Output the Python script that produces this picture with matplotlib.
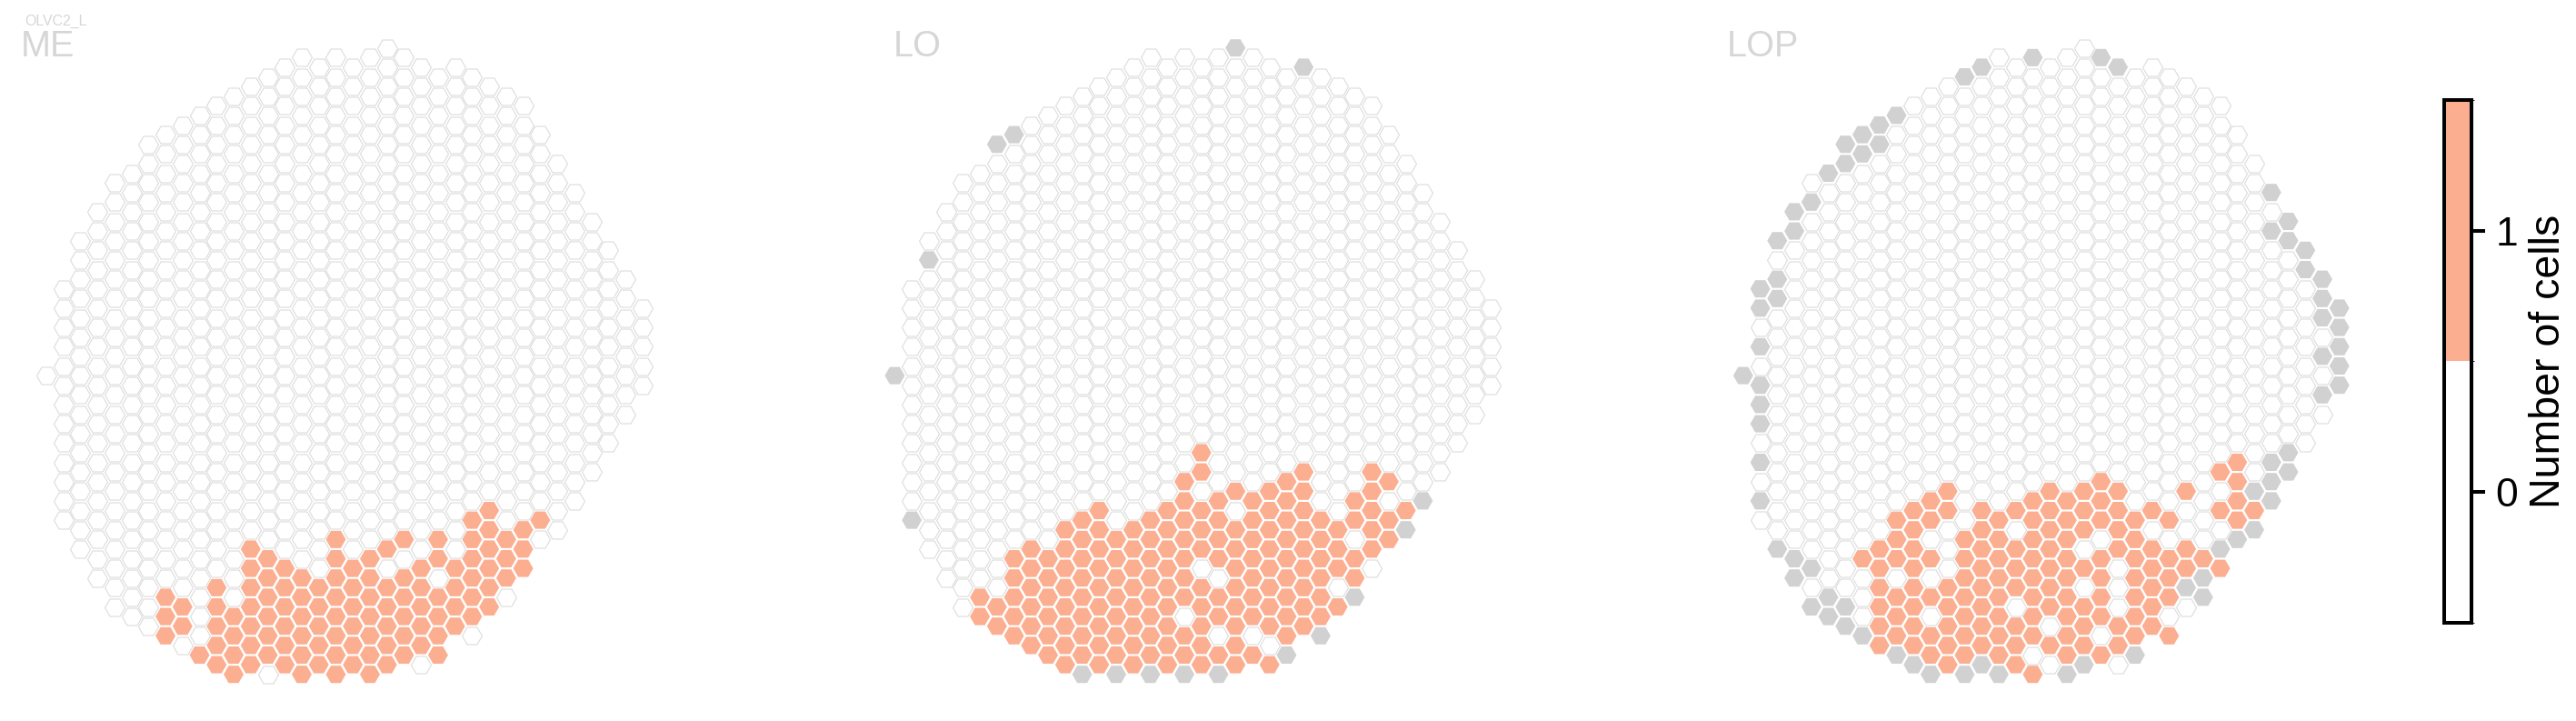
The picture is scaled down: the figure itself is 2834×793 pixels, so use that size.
import matplotlib
matplotlib.use("Agg")
import matplotlib.pyplot as plt
from matplotlib.colors import ListedColormap, BoundaryNorm
from matplotlib.cm import ScalarMappable

plt.rcParams['font.family'] = ['Liberation Sans', 'DejaVu Sans']

W, H, DPI = 2834, 793, 100

# hex grid outline: first / last half-row index of every column
COL_TOP = [34, 25, 20, 17, 14, 13, 10, 9, 8, 7, 6, 5, 4, 3, 2, 1, 2, 1, 2, 1, 0, 1, 2, 3, 2,
           3, 4, 5, 6, 9, 12, 15, 18, 21, 24, 27]
COL_BOTTOM = [34, 49, 52, 55, 58, 59, 60, 61, 62, 63, 64, 65, 64, 65, 64, 65, 64, 65, 64, 65, 64, 63, 64, 63, 60,
              61, 58, 57, 54, 51, 50, 47, 44, 41, 38, 35]

# cells with one cell count, column -> half-row indices
ME_ONE = {
    7: [57, 59, 61], 8: [58, 60], 9: [63], 10: [56, 58, 60, 62, 64], 11: [59, 61, 63, 65],
    12: [52, 54, 56, 58, 60, 62, 64], 13: [53, 55, 57, 59, 61, 63], 14: [54, 56, 58, 60, 62, 64],
    15: [55, 57, 59, 61, 63, 65], 16: [56, 58, 60, 62, 64], 17: [51, 53, 55, 57, 59, 61, 63, 65],
    18: [54, 56, 58, 60, 62, 64], 19: [53, 55, 57, 59, 61, 63, 65], 20: [52, 56, 58, 60, 62, 64],
    21: [51, 55, 57, 59, 61, 63], 22: [54, 56, 58, 60, 62], 23: [51, 53, 57, 59, 61, 63],
    24: [54, 56, 58, 60], 25: [49, 51, 53, 55, 57, 59], 26: [48, 50, 52, 54, 56, 58],
    27: [51, 53, 55], 28: [50, 52, 54], 29: [49],
}
LO_ONE = {
    5: [57, 59], 6: [58, 60], 7: [53, 55, 57, 59, 61], 8: [52, 54, 56, 58, 60, 62],
    9: [53, 55, 57, 59, 61, 63], 10: [50, 52, 54, 56, 58, 60, 62, 64],
    11: [49, 51, 53, 55, 57, 59, 61, 63], 12: [48, 50, 52, 54, 56, 58, 60, 62, 64],
    13: [51, 53, 55, 57, 59, 61, 63], 14: [50, 52, 54, 56, 58, 60, 62, 64],
    15: [49, 51, 53, 55, 57, 59, 61, 63], 16: [48, 50, 52, 54, 56, 58, 60, 62, 64],
    17: [45, 47, 49, 51, 53, 55, 57, 61, 63], 18: [42, 44, 48, 50, 52, 56, 58, 60, 62, 64],
    19: [47, 49, 51, 53, 57, 59, 63], 20: [46, 50, 52, 54, 56, 58, 60, 62, 64],
    21: [47, 49, 51, 53, 55, 57, 59, 63], 22: [46, 48, 50, 52, 54, 56, 58, 60, 64],
    23: [45, 47, 49, 51, 53, 55, 57, 59, 61], 24: [44, 46, 48, 50, 52, 54, 56, 58, 60],
    25: [49, 51, 53, 55, 57, 59], 26: [50, 52, 54, 58], 27: [47, 49, 53, 55],
    28: [44, 46, 48, 50, 52], 29: [45, 49, 51], 30: [48],
}
LOP_ONE = {
    7: [53], 8: [52, 54, 56, 58, 60, 62], 9: [49, 51, 53, 57, 59, 61],
    10: [48, 50, 52, 54, 56, 58, 60, 62], 11: [47, 49, 53, 57, 61, 63],
    12: [46, 48, 56, 58, 60, 62, 64], 13: [51, 53, 55, 57, 59, 61, 63],
    14: [48, 50, 52, 54, 56, 58, 60, 62], 15: [49, 51, 53, 55, 57, 59, 61, 63],
    16: [48, 52, 54, 56, 60, 62, 64], 17: [47, 49, 51, 53, 55, 57, 59, 61, 65],
    18: [46, 48, 50, 52, 54, 56, 58, 62], 19: [47, 49, 51, 53, 55, 57, 59, 61, 63],
    20: [46, 48, 50, 54, 58, 60, 62], 21: [45, 47, 49, 53, 55, 57, 59, 63],
    22: [46, 48, 50, 52, 60, 62], 23: [49, 51, 53, 55, 57, 59, 61],
    24: [48, 52, 54, 56, 58, 60], 25: [49, 53, 55, 57, 61], 26: [46, 52, 54],
    27: [53], 28: [44, 48, 54], 29: [43, 45, 47, 49], 30: [48],
}

# cells outside the neuropil (grey), column -> half-row indices
ME_NA = {}
LO_NA = {
    0: [34], 1: [49], 2: [22], 6: [10], 7: [9], 11: [65], 13: [65], 15: [65], 17: [65], 19: [65],
    20: [0], 23: [63], 24: [2], 25: [61], 27: [57], 30: [50], 31: [47],
}
LOP_NA = {
    0: [34], 1: [25, 27, 31, 35, 37, 39, 43, 47], 2: [20, 24, 26, 52], 3: [17, 19, 53, 55],
    4: [16, 54, 58], 5: [13, 57, 59], 6: [10, 12, 58, 60], 7: [9, 11, 61], 8: [8, 10], 9: [7, 63],
    10: [64], 11: [65], 13: [3, 65], 14: [2, 64], 15: [65], 17: [1], 19: [65], 20: [64], 21: [1],
    22: [2], 23: [63], 26: [56], 27: [55, 57], 28: [52], 29: [51], 30: [46, 50],
    31: [15, 19, 43, 45, 47], 32: [18, 20, 42, 44], 33: [21, 23], 34: [24, 26, 28, 32, 36],
    35: [27, 29, 31, 33, 35],
}

PANEL_NAMES = ["ME", "LO", "LOP"]
PANEL_ONES = [ME_ONE, LO_ONE, LOP_ONE]
PANEL_NAS = [ME_NA, LO_NA, LOP_NA]
CBAR_TICKS = [0, 1]
CBAR_LABEL = "Number of cells"
SUPER_LABEL = "OLVC2_L"

# layout (pixels)
PANEL_X0 = [50.9, 984.4, 1917.8]
PANEL_TITLE_X = [22.5, 983, 1900]
COL_STEP = 18.74
ROW_STEP = 10.6
ROW_Y0 = 52.7
HEX_S = 250
ORANGE, GREY, EDGE, TEXT_GREY = '#fcae91', '#d1d1d1', '#dcdcdc', '#d6d6d6'

fig = plt.figure(figsize=(W / DPI, H / DPI), dpi=DPI, facecolor='white')


def px_axes(left, top, right, bottom):
    return fig.add_axes([left / W, 1 - bottom / H, (right - left) / W, (bottom - top) / H])


for name, ones, nas, x0, tx in zip(PANEL_NAMES, PANEL_ONES, PANEL_NAS, PANEL_X0, PANEL_TITLE_X):
    left, right = x0 - 30, x0 + 35 * COL_STEP + 30
    top, bottom = 20, 775
    ax = px_axes(left, top, right, bottom)
    ax.set_xlim(-30 / COL_STEP, 35 + 30 / COL_STEP)
    ax.set_ylim((bottom - ROW_Y0) / ROW_STEP, (top - ROW_Y0) / ROW_STEP)
    ax.axis('off')
    ex, ey, ox, oy, nx, ny = [], [], [], [], [], []
    for c, (t, b) in enumerate(zip(COL_TOP, COL_BOTTOM)):
        for h in range(t, b + 1, 2):
            if h in ones.get(c, []):
                ox.append(c); oy.append(h)
            elif h in nas.get(c, []):
                nx.append(c); ny.append(h)
            else:
                ex.append(c); ey.append(h)
    ax.scatter(ex, ey, s=HEX_S, marker='H', facecolor='white', edgecolor=EDGE, linewidth=0.8, clip_on=False)
    if nx:
        ax.scatter(nx, ny, s=HEX_S, marker='H', facecolor=GREY, edgecolor='none', clip_on=False)
    ax.scatter(ox, oy, s=HEX_S, marker='H', facecolor=ORANGE, edgecolor='none', clip_on=False)
    fig.text(tx / W, 1 - 61.7 / H, name, fontsize=28.5, color=TEXT_GREY, ha='left', va='baseline')

fig.text(27 / W, 1 - 27.5 / H, SUPER_LABEL, fontsize=11.4, color=TEXT_GREY, ha='left', va='baseline')

cax = px_axes(2688.5, 110, 2718.5, 684.5)
sm = ScalarMappable(norm=BoundaryNorm([-0.5, 0.5, 1.5], 2), cmap=ListedColormap(['white', ORANGE]))
cb = fig.colorbar(sm, cax=cax, ticks=CBAR_TICKS)
cb.outline.set_linewidth(2.9)
cb.outline.set_edgecolor('black')
cb.ax.tick_params(length=11, width=2.9, labelsize=32, pad=8.5, color='black')
cb.set_label(CBAR_LABEL, fontsize=33.5, labelpad=8.5)

fig.savefig('out.png', dpi=DPI, facecolor='white')
